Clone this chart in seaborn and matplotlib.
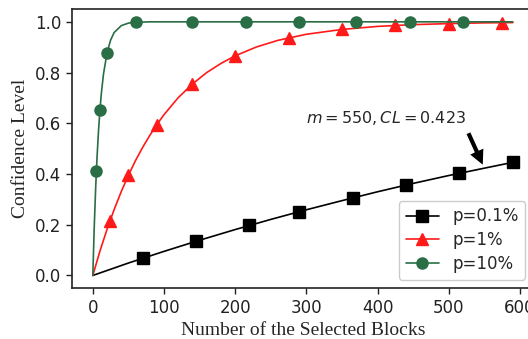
import numpy as np
import pandas as pd
import matplotlib
matplotlib.use('Agg')
import matplotlib.pyplot as plt
from matplotlib.lines import Line2D
import seaborn as sns

sns.set_style("ticks")
plt.rcParams['font.family'] = ['DejaVu Sans']

# curve samples (number of blocks, confidence level)
m_low = [0, 50, 100, 150, 200, 250, 300, 350, 400, 450, 500, 550, 590]
cl_low = [0, 0.049, 0.095, 0.139, 0.181, 0.221, 0.259, 0.295, 0.330, 0.363, 0.394, 0.423, 0.446]
m_mid = [0, 10, 20, 30, 40, 50, 60, 70, 80, 90, 100, 120, 140, 160, 180, 200, 230, 260,
         300, 350, 400, 450, 500, 550, 590]
cl_mid = [0, 0.096, 0.182, 0.260, 0.331, 0.395, 0.453, 0.505, 0.552, 0.595, 0.634, 0.701,
          0.755, 0.800, 0.836, 0.866, 0.901, 0.927, 0.951, 0.970, 0.982, 0.989, 0.993,
          0.996, 0.997]
m_high = [0, 2, 4, 5, 6, 8, 10, 12, 15, 20, 25, 30, 40, 50, 60, 80, 590]
cl_high = [0, 0.19, 0.344, 0.41, 0.469, 0.570, 0.651, 0.718, 0.794, 0.878, 0.928, 0.958,
           0.985, 0.995, 0.998, 1.0, 1.0]

# marker positions
mk_low_x = [70, 145, 220, 290, 365, 440, 515, 590]
mk_low_y = [0.068, 0.135, 0.198, 0.252, 0.306, 0.356, 0.403, 0.446]
mk_mid_x = [24, 50, 90, 140, 200, 275, 350, 425, 500, 575]
mk_mid_y = [0.214, 0.395, 0.595, 0.755, 0.866, 0.937, 0.970, 0.986, 0.993, 0.997]
mk_high_x = [5, 10, 20, 60, 140, 215, 290, 370, 445, 520]
mk_high_y = [0.41, 0.651, 0.878, 0.998, 1.0, 1.0, 1.0, 1.0, 1.0, 1.0]

labels = ['p=0.1%', 'p=1%', 'p=10%']
colors = ['black', '#ff1a1a', '#2a6e46']
markers = ['s', '^', 'o']

curves = [(m_low, cl_low, mk_low_x, mk_low_y),
          (m_mid, cl_mid, mk_mid_x, mk_mid_y),
          (m_high, cl_high, mk_high_x, mk_high_y)]

fig = plt.figure(figsize=(5.28, 3.39), dpi=100)
ax = fig.add_axes([0.136, 0.150, 0.875, 0.823])

handles = []
for (lx, ly, mx, my), lab, c, mk in zip(curves, labels, colors, markers):
    sns.lineplot(x=lx, y=ly, color=c, lw=1.2, ax=ax, sort=False)
    ax.plot(mx, my, linestyle='none', marker=mk, color=c, ms=8)
    handles.append(Line2D([], [], color=c, lw=1.2, marker=mk, ms=8, label=lab))

ax.set_xlim(-29.5, 619.5)
ax.set_ylim(-0.05, 1.05)
ax.set_xticks([0, 100, 200, 300, 400, 500, 600])
ax.set_yticks([0.0, 0.2, 0.4, 0.6, 0.8, 1.0])
ax.tick_params(labelsize=12, direction='out', length=4, width=1, colors='#222222')
for s in ax.spines.values():
    s.set_linewidth(1.2)
    s.set_color('#222222')

ax.set_xlabel('Number of the Selected Blocks', family='Liberation Serif', fontsize=14)
ax.set_ylabel('Confidence Level', family='Liberation Serif', fontsize=14)

ax.annotate(r'$m=550, CL=0.423$', xy=(550, 0.423), xytext=(299, 0.600),
            fontsize=11.5, arrowprops=dict(facecolor='black', shrink=0.05,
                                           width=4, headwidth=12, headlength=12))

ax.legend(handles=handles, loc='lower right', fontsize=12, framealpha=1,
          edgecolor='#cccccc', handlelength=2.0, labelspacing=0.35)

fig.savefig('out.png', dpi=100)
